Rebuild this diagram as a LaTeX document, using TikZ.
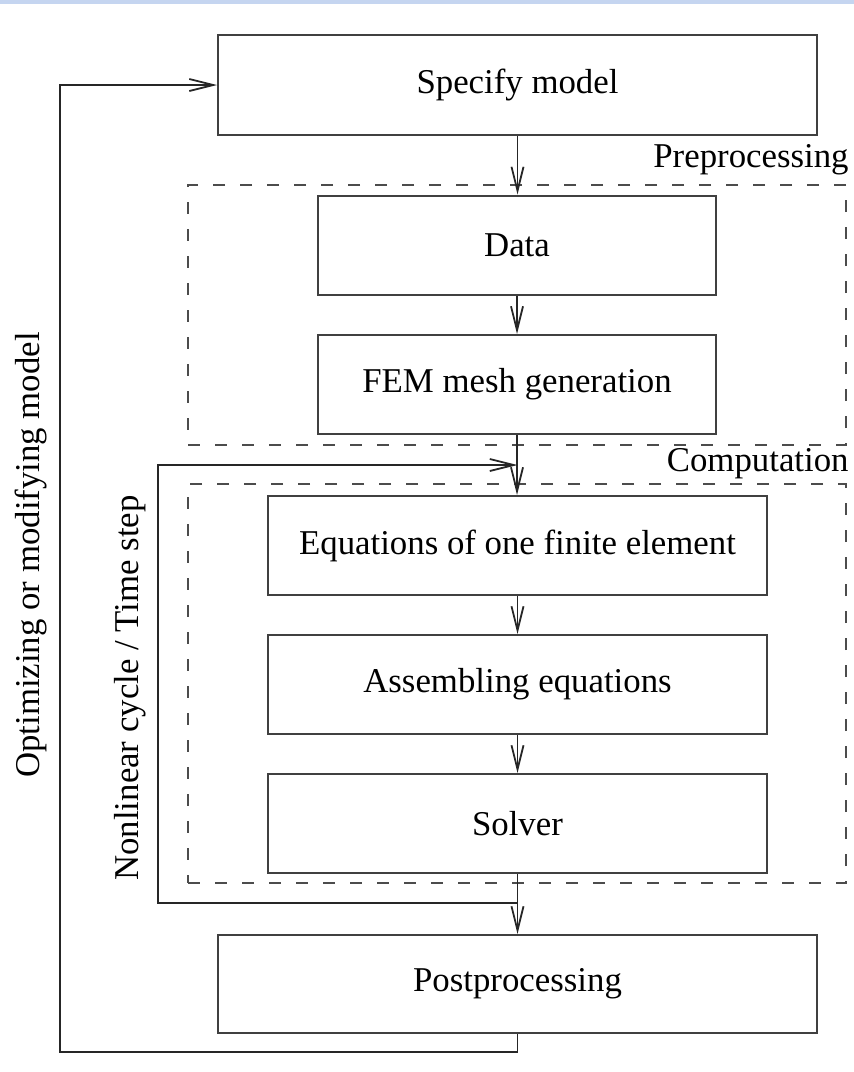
\documentclass[tikz,border=0pt]{standalone}
\usepackage{fontspec}
\setmainfont{Liberation Serif}
\usetikzlibrary{arrows.meta}
\usetikzlibrary{positioning}
\definecolor{band}{RGB}{197,213,240}

\begin{document}
\begin{tikzpicture}[x=0.5pt, y=-0.5pt,
        box/.style={draw=black!75, line width=1pt, minimum height=49.5pt, inner sep=0pt},
        group/.style={draw=black!70, line width=1pt, dash pattern=on 6pt off 7.5pt, inner sep=0pt},
        flow/.style={draw=black!85, line width=0.9pt, -{Straight Barb[length=12pt,width=6pt]}},
        every node/.style={font=\fontsize{17.4}{20}\selectfont}]
        % Canvas
        \fill[white] (0,0) rectangle (854,1072);
        \fill[band] (0,0) rectangle (854,4);
        \useasboundingbox (0,0) rectangle (854,1072);

        % Model
        \node[box, minimum width=299.5pt, minimum height=50pt] (spec) at (517.5,85) {Specify model};

        % Preprocessing
        \node[group, minimum width=329pt, minimum height=130pt] (pre) at (517,315) {};
        \node[anchor=base east, inner sep=0pt] (prelabel) at ([xshift=1pt, yshift=8.5pt]pre.north east) {Preprocessing};
        \node[box, minimum width=199pt] (data) at (517,245) {Data};
        \node[box, minimum width=199pt] (fem) at (517,384.5) {FEM mesh generation};

        % Computation
        \node[group, minimum width=329pt, minimum height=199.5pt] (comp) at (517,683.5) {};
        \node[anchor=base east, inner sep=0pt] (complabel) at ([xshift=1pt, yshift=6pt]comp.north east) {Computation};
        \node[box, minimum width=249.5pt] (elem) at (517.5,545.5) {Equations of one finite element};
        \node[box, minimum width=249.5pt] (assem) at (517.5,684.5) {Assembling equations};
        \node[box, minimum width=249.5pt] (solver) at (517.5,823.5) {Solver};

        % Results
        \node[box, minimum width=299.5pt, minimum height=49pt] (post) at (517.5,984) {Postprocessing};

        % Main flow
        \draw[flow] (spec.south) -- (spec.south |- data.north);
        \draw[flow] (data.south) -- (data.south |- fem.north);
        \draw[flow] (fem.south) -- (fem.south |- elem.north);
        \draw[flow] (elem) -- (assem);
        \draw[flow] (assem) -- (solver);
        \draw[flow] (solver) -- (post);

        % Inner loop
        \coordinate (fork) at (517.5,903);
        \coordinate (join) at (517.5,465);
        \coordinate (turn) at (158,903);
        \draw[flow] (fork) -- (turn) |- (join);
        \node[rotate=90] (innerlabel) at (130,688) {Nonlinear cycle / Time step};

        % Outer loop
        \coordinate (back) at (60,1052);
        \draw[flow] (post.south) |- (back) |- (spec.west);
        \node[rotate=90] (outerlabel) at (31,555) {Optimizing or modifying model};
\end{tikzpicture}
\end{document}
